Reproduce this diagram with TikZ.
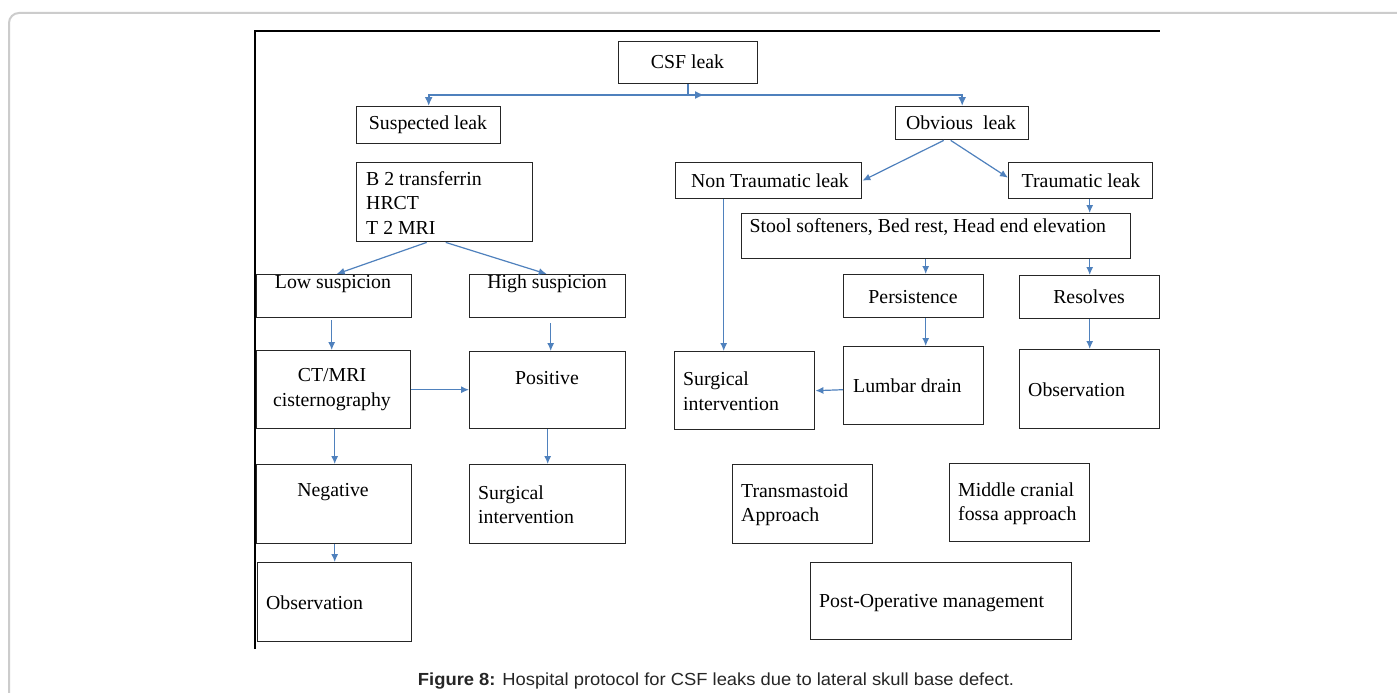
\documentclass[tikz,border=0pt]{standalone}
\usepackage{fontspec}
\setmainfont{Liberation Serif}
\newfontfamily\capfont[FakeStretch=1.05]{Liberation Sans}
\usetikzlibrary{arrows.meta}
\definecolor{arrblue}{RGB}{79,129,189}
\definecolor{framegray}{RGB}{204,204,204}
\tikzset{
  box/.style={draw=black!85, line width=1.4pt, inner sep=0pt, anchor=north west},
  txt/.style={inner sep=0pt, font=\fontsize{19.8}{24.5}\selectfont},
  arr/.style={draw=arrblue, line width=1.2pt, -{Latex[length=8pt,width=7pt]}},
  bline/.style={draw=arrblue, line width=2pt},
}
\newcommand\mkbox[5]{\node[box, minimum width=#4pt-#2pt, minimum height=#5pt-#3pt] (#1) at (#2,#3) {};}
\begin{document}
\begin{tikzpicture}[x=1pt,y=-1pt]
\useasboundingbox[fill=white] (0,0) rectangle (1397,693);
% outer gray frame
\draw[framegray, line width=2pt, rounded corners=10pt] (9,700) -- (9,13) -- (1405,13);
% inner black frame
\draw[black, line width=1.2pt] (255,649) -- (255,31) -- (1160,31);
% boxes
\mkbox{csf}{618}{41}{757}{83}
\mkbox{sus}{356}{106}{500}{143}
\mkbox{btr}{356}{162}{532}{241}
\mkbox{obv}{895}{106}{1028}{139}
\mkbox{nont}{675}{162}{861}{198}
\mkbox{trau}{1008}{162}{1152}{198}
\mkbox{stool}{741}{213}{1130}{258}
\mkbox{low}{256}{274}{411}{317}
\mkbox{high}{469}{274}{625}{317}
\mkbox{ct}{256}{350}{410}{428}
\mkbox{pos}{469}{351}{625}{428}
\mkbox{neg}{256}{464}{411}{543}
\mkbox{surgL}{469}{464}{625}{543}
\mkbox{obsL}{257}{562}{411}{641}
\mkbox{pers}{843}{274}{983}{317}
\mkbox{res}{1019}{275}{1159}{318}
\mkbox{lumb}{843}{346}{983}{424}
\mkbox{obsR}{1019}{349}{1159}{428}
\mkbox{surgM}{674}{351}{814}{429}
\mkbox{trans}{732}{464}{872}{543}
\mkbox{mid}{949}{463}{1089}{541}
\mkbox{post}{810}{562}{1071}{639}
% texts
\node[txt] (tcsf) at (687.5,62) {CSF leak};
\node[txt] (tsus) at (428,125) {Suspected leak};
\node[txt, anchor=west, align=left] (tbtr) at (366,203) {B 2 transferrin\\HRCT\\T 2 MRI};
\node[txt] (tobv) at (961,123) {Obvious\ \ leak};
\node[txt] (tnont) at (770,181) {Non Traumatic leak};
\node[txt] (ttrau) at (1081,181) {Traumatic leak};
\node[txt, anchor=west] (tstool) at (749.5,227) {Stool softeners, Bed rest, Head end elevation};
\node[txt] (tlow) at (333,284) {Low suspicion};
\node[txt] (thigh) at (547,284) {High suspicion};
\node[txt, align=center] (tct) at (332,389.5) {CT/MRI\\cisternography};
\node[txt] (tpos) at (547,378) {Positive};
\node[txt] (tneg) at (333,492) {Negative};
\node[txt, anchor=west, align=left] (tsurgL) at (478,504.5) {Surgical\\intervention};
\node[txt, anchor=west] (tobsL) at (266,603) {Observation};
\node[txt] (tpers) at (913,297) {Persistence};
\node[txt] (tres) at (1089,297) {Resolves};
\node[txt, anchor=west] (tlumb) at (853,386) {Lumbar drain};
\node[txt, anchor=west] (tobsR) at (1028,390) {Observation};
\node[txt, anchor=west, align=left] (tsurgM) at (683,391) {Surgical\\intervention};
\node[txt, anchor=west, align=left] (ttrans) at (741,504.5) {Transmastoid\\Approach};
\node[txt, anchor=west, align=left] (tmid) at (958,503.5) {Middle cranial\\fossa approach};
\node[txt, anchor=west] (tpost) at (819,603) {Post-Operative management};
% top connector
\coordinate (j) at (csf.south |- 0,95);
\draw[bline] (csf.south) -- (j);
\draw[bline, -{Latex[length=9pt,width=8pt]}] (j) -| (sus.north);
\draw[bline, -{Latex[length=9pt,width=8pt]}] (j) -| (obv.north);
\draw[bline, -{Latex[length=9pt,width=8pt]}] (j) -- ++(16,0) coordinate (jm);
% left branch
\draw[arr] ([xshift=-18pt]btr.south) -- ([xshift=2.5pt]low.north);
\draw[arr] ([xshift=1pt]btr.south) -- ([xshift=-1pt]high.north);
\draw[arr] ([xshift=-2.5pt,yshift=-2pt]low.south) -- ([xshift=-2.5pt]low.south |- ct.north);
\draw[arr] ([xshift=3pt,yshift=-5pt]high.south) -- ([xshift=3pt]high.south |- pos.north);
\draw[arr] (ct.east) -- (ct.east -| pos.west);
\draw[arr] ([xshift=1pt]ct.south) -- ([xshift=1pt]ct.south |- neg.north);
\draw[arr] (pos.south) -- (pos.south |- surgL.north);
\draw[arr] ([xshift=0.5pt]neg.south) -- ([xshift=0.5pt]neg.south |- obsL.north);
% right branch
\draw[arr] ([xshift=-18.5pt]obv.south) -- (nont.east);
\draw[arr] ([xshift=-11.5pt]obv.south) -- ([yshift=3pt]trau.west);
\draw[arr] ([xshift=9pt]trau.south) -- ([xshift=9pt]trau.south |- stool.north);
\draw[arr] ([xshift=-45pt]nont.south) -- ([xshift=-45pt]nont.south |- surgM.north);
\draw[arr] ([xshift=-10.5pt]stool.south) -- ([xshift=-10.5pt]stool.south |- pers.north);
\draw[arr] ([xshift=153.5pt]stool.south) -- ([xshift=153.5pt]stool.south |- res.north);
\draw[arr] ([xshift=12pt]pers.south) -- ([xshift=12pt]pers.south |- lumb.north);
\draw[arr] (res.south) -- (res.south |- obsR.north);
\draw[arr] ([yshift=-4pt]lumb.west) -- (surgM.east);
% caption
\node[inner sep=0pt, anchor=base, text=black!85, font=\capfont\fontsize{17.5}{21}\selectfont] (cap) at (716,685) {\textbf{Figure 8:} Hospital protocol for CSF leaks due to lateral skull base defect.};
\end{tikzpicture}
\end{document}
